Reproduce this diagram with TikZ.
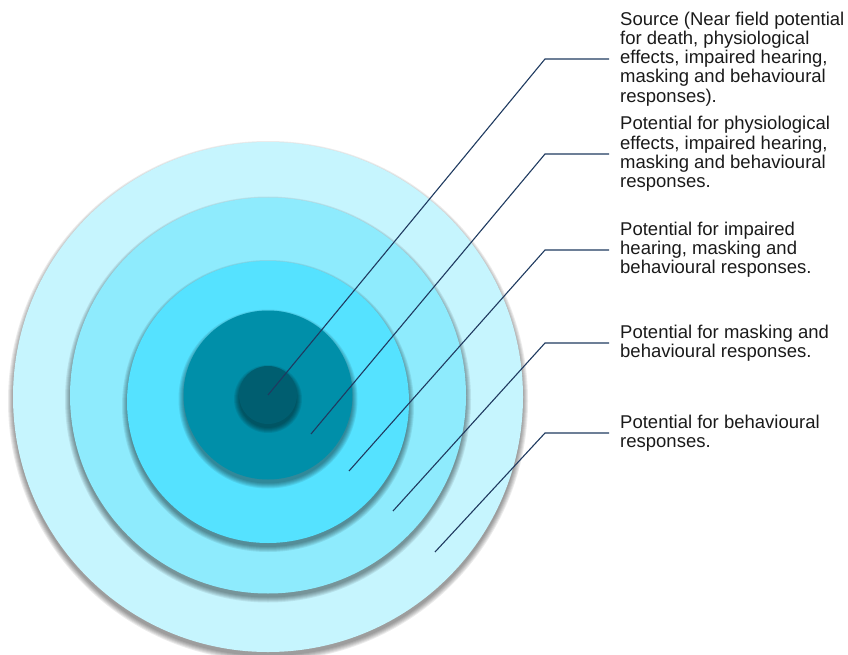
\documentclass[tikz,border=0pt]{standalone}
\usepackage{fontspec}
\setmainfont{Liberation Sans}
\definecolor{ringA}{HTML}{C6F5FE}
\definecolor{ringB}{HTML}{8EEBFD}
\definecolor{ringC}{HTML}{55E2FF}
\definecolor{ringD}{HTML}{008FA9}
\definecolor{ringE}{HTML}{005E70}
\definecolor{leadcol}{HTML}{1F3A60}
\definecolor{txtcol}{HTML}{1A1A1A}
\newcommand\ringshadow[3]{%
  \foreach \k in {5,4,3,2,1,0}{%
    \fill[black, opacity=0.08] ({#1},{#2+4}) circle ({#3+\k pt});
  }%
}
\tikzset{
  ring/.style={circle, inner sep=0pt, minimum size=#1},
  lbl/.style={anchor=west, align=left, font=\fontsize{18.5}{19.2}\selectfont,
    inner xsep=11pt, inner ysep=0pt, text=txtcol},
  lead/.style={draw=leadcol, line width=1.1pt},
}
\begin{document}
\begin{tikzpicture}[x=1pt, y=-1pt]
\useasboundingbox (0,0) rectangle (848,655);
% rings with soft shadows
\ringshadow{268}{397}{255}
\node[ring=510pt, fill=ringA] (c1) at (268,397) {};
\ringshadow{268}{395.5}{198}
\node[ring=396pt, fill=ringB] (c2) at (268,395.5) {};
\ringshadow{268}{402}{141}
\node[ring=282pt, fill=ringC] (c3) at (268,402) {};
\ringshadow{268}{395}{84.5}
\node[ring=169pt, fill=ringD] (c4) at (268,395) {};
\ringshadow{268}{395}{29}
\node[ring=58pt, fill=ringE] (c5) at (268,395) {};
% labels
\node[lbl] (t1) at (609,59) {Source (Near field potential\\for death, physiological\\effects, impaired hearing,\\masking and behavioural\\responses).};
\node[lbl] (t2) at (609,154) {Potential for physiological\\effects, impaired hearing,\\masking and behavioural\\responses.};
\node[lbl] (t3) at (609,250) {Potential for impaired\\hearing, masking and\\behavioural responses.};
\node[lbl] (t4) at (609,343) {Potential for masking and\\behavioural responses.};
\node[lbl] (t5) at (609,433) {Potential for behavioural\\responses.};
% leader points
\coordinate (s1) at (268,395);
\coordinate (s2) at (311,434);
\coordinate (s3) at (349,471);
\coordinate (s4) at (393,511);
\coordinate (s5) at (435,552);
\coordinate (k1) at (545,59);
\coordinate (k2) at (545,154);
\coordinate (k3) at (545,250);
\coordinate (k4) at (545,343);
\coordinate (k5) at (545,433);
\draw[lead] (s1) -- (k1) -- (t1.west);
\draw[lead] (s2) -- (k2) -- (t2.west);
\draw[lead] (s3) -- (k3) -- (t3.west);
\draw[lead] (s4) -- (k4) -- (t4.west);
\draw[lead] (s5) -- (k5) -- (t5.west);
\end{tikzpicture}
\end{document}
